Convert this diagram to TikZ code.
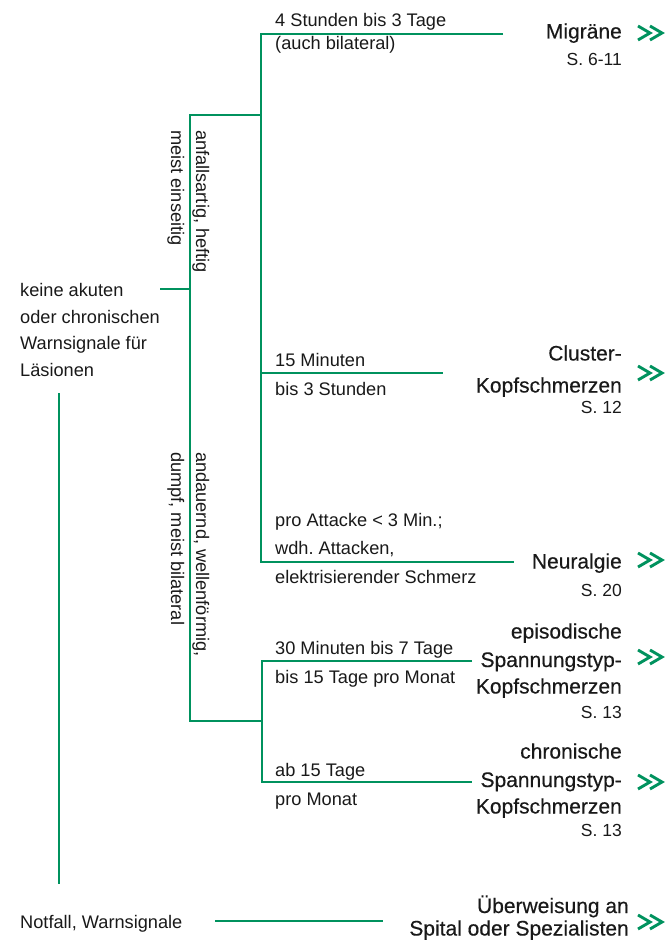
\documentclass[tikz,border=0pt]{standalone}
\usepackage{fontspec}
\setmainfont{Liberation Sans}
\newfontfamily\hdfont[FakeBold=0.35]{Liberation Sans}
\definecolor{grn}{RGB}{0,146,94}
\definecolor{ink}{RGB}{25,25,25}
\frenchspacing
\begin{document}
\begin{tikzpicture}[x=1pt,y=-1pt,
 br/.style={draw=grn,line width=2.6pt,line join=miter},
 sm/.style={font=\fontsize{18.2}{22}\selectfont,text=ink,inner sep=0pt},
 smL/.style={sm,anchor=base west},
 hd/.style={font=\hdfont\fontsize{21}{26}\selectfont,text=ink,inner sep=0pt,anchor=base east},
 pg/.style={font=\fontsize{17.5}{20}\selectfont,text=ink,inner sep=0pt,anchor=base east},
 vt/.style={sm,rotate=-90,anchor=base west},
 dchev/.pic={\draw[grn,line width=2.9pt,line join=miter,line cap=butt] (0,-7)--(12,0)--(0,7) (12,-7)--(24,0)--(12,7);}
]
\useasboundingbox (0,0) rectangle (667,942);

% root text
\node[smL] (k1) at (20,296) {keine akuten};
\node[smL] (k2) at (20,323) {oder chronischen};
\node[smL] (k3) at (20,349) {Warnsignale für};
\node[smL] (k4) at (20,376) {Läsionen};

% vertical labels
\node[vt] (v1) at (196,130) {anfallsartig, heftig};
\node[vt] (v2) at (171,130) {meist einseitig};
\node[vt] (v3) at (196,452) {andauernd, wellenförmig,};
\node[vt] (v4) at (171,452) {dumpf, meist bilateral};

% branch labels
\node[smL] (a1) at (275,27) {4 Stunden bis 3 Tage};
\node[smL] (a2) at (275,49) {(auch bilateral)};
\node[smL] (b1) at (275,366) {15 Minuten};
\node[smL] (b2) at (275,395) {bis 3 Stunden};
\node[smL] (c1) at (275,526) {pro Attacke < 3 Min.;};
\node[smL] (c2) at (275,554) {wdh. Attacken,};
\node[smL] (c3) at (275,583) {elektrisierender Schmerz};
\node[smL] (d1) at (275,654) {30 Minuten bis 7 Tage};
\node[smL] (d2) at (275,683) {bis 15 Tage pro Monat};
\node[smL] (e1) at (275,776) {ab 15 Tage};
\node[smL] (e2) at (275,805) {pro Monat};

% outcomes
\node[hd] (m1) at (622,38.5) {Migräne};
\node[pg] (m2) at (622,66) {S. 6-11};
\node[hd] (cl1) at (622,360.5) {Cluster-};
\node[hd] (cl2) at (622,392.5) {Kopfschmerzen};
\node[pg] (cl3) at (622,413) {S. 12};
\node[hd] (ne1) at (622,568.5) {Neuralgie};
\node[pg] (ne2) at (622,596) {S. 20};
\node[hd] (ep1) at (622,638.5) {episodische};
\node[hd] (ep2) at (622,667) {Spannungstyp-};
\node[hd] (ep3) at (622,693.5) {Kopfschmerzen};
\node[pg] (ep4) at (622,718) {S. 13};
\node[hd] (ch1) at (622,758.5) {chronische};
\node[hd] (ch2) at (622,787) {Spannungstyp-};
\node[hd] (ch3) at (622,813.5) {Kopfschmerzen};
\node[pg] (ch4) at (622,836) {S. 13};
\node[smL] (n1) at (20,928) {Notfall, Warnsignale};
\node[hd] (u1) at (629,913) {Überweisung an};
\node[hd] (u2) at (629,935.5) {Spital oder Spezialisten};

% chevrons
\pic at (638,33) {dchev};
\pic at (638,373) {dchev};
\pic at (638,560) {dchev};
\pic at (638,657) {dchev};
\pic at (638,782) {dchev};
\pic at (638,922) {dchev};

% junctions
\coordinate (r0) at (160,289);
\coordinate (j1) at (190,289);
\coordinate (j1t) at (190,115);
\coordinate (j1b) at (190,721);
\coordinate (j2) at (261,115);
\coordinate (j2t) at (261,34);
\coordinate (j2m) at (261,373);
\coordinate (j2b) at (261,562);
\coordinate (j3) at (262,721);
\coordinate (j3t) at (262,661);
\coordinate (j3b) at (262,782);
\coordinate (t1) at (503,34);
\coordinate (t2) at (443,373);
\coordinate (t3) at (514,562);
\coordinate (t4) at (472,661);
\coordinate (t5) at (472,782);
\coordinate (w1) at (59,393);
\coordinate (w2) at (59,884);
\coordinate (z1) at (215,921);
\coordinate (z2) at (383,921);

\draw[br] (r0) -- (j1);
\draw[br] (j2) -- (j1t) -- (j1b) -- (j3);
\draw[br] (t1) -- (j2t) -- (j2b) -- (t3);
\draw[br] (j2m) -- (t2);
\draw[br] (t4) -- (j3t) -- (j3b) -- (t5);
\draw[br] (w1) -- (w2);
\draw[br] (z1) -- (z2);
\end{tikzpicture}
\end{document}
